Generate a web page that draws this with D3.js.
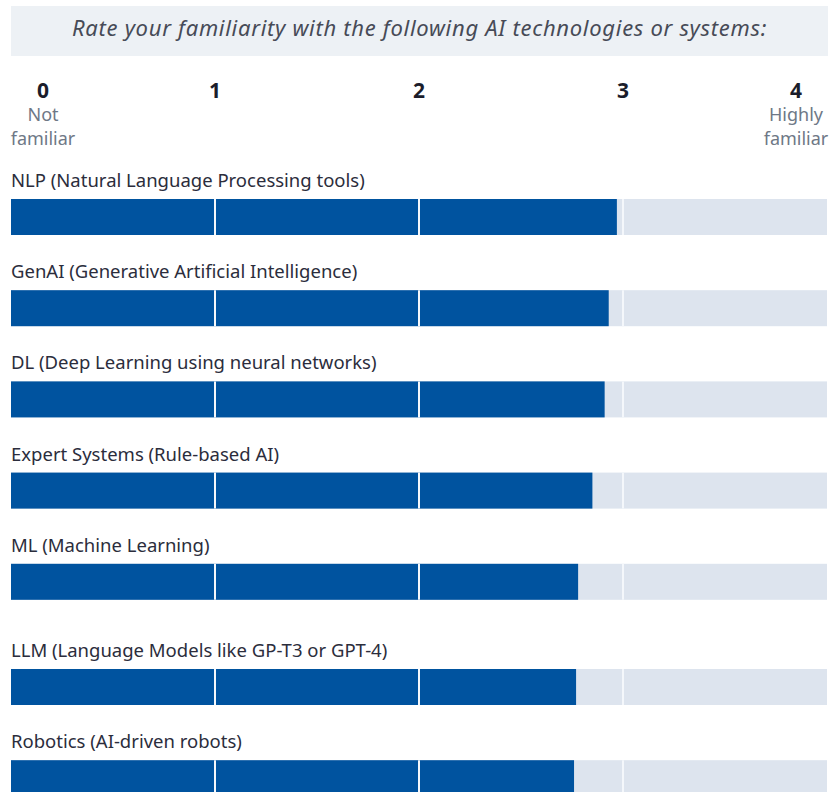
<!DOCTYPE html>
<html>
<head>
<meta charset="utf-8">
<script src="https://cdn.jsdelivr.net/npm/d3@7.9.0/dist/d3.min.js"></script>
<style>
  body { margin: 0; background: #fff; }
  svg { display: block; font-family: "Noto Sans", "Open Sans", sans-serif; }
</style>
</head>
<body>
<svg id="chart" width="833" height="792"></svg>
<script>
// survey question + scale
const title = 'Rate your familiarity with the following AI technologies or systems:';
const ticks = [0, 1, 2, 3, 4];
const tickNotes = { 0: ['Not', 'familiar'], 4: ['Highly', 'familiar'] };

// technologies and their average rating
const technologies = [
  'NLP (Natural Language Processing tools)',
  'GenAI (Generative Artificial Intelligence)',
  'DL (Deep Learning using neural networks)',
  'Expert Systems (Rule-based AI)',
  'ML (Machine Learning)',
  'LLM (Language Models like GP-T3 or GPT-4)',
  'Robotics (AI-driven robots)'
];
const ratings = [2.97, 2.93, 2.91, 2.85, 2.78, 2.77, 2.76];

const svg = d3.select('#chart');
const left = 11, right = 828;

let x = d3.scaleLinear().domain([0, 4]).range([left, right - 1]);

// title box
svg.append('rect')
  .attr('x', left).attr('y', 6)
  .attr('width', right - left).attr('height', 50)
  .attr('fill', '#edf1f5');
svg.append('text')
  .attr('x', (left + right) / 2).attr('y', 36)
  .attr('text-anchor', 'middle')
  .attr('font-style', 'italic')
  .attr('font-size', 22)
  .attr('letter-spacing', 0.7)
  .attr('fill', '#474b57')
  .text(title);

// scale header: end labels sit inward
const tickX = (t) => t === 0 ? left + 32 : t === 4 ? right - 32 : x(t);
let header = svg.append('g');
ticks.forEach(t => {
  header.append('text')
    .attr('x', tickX(t)).attr('y', 98)
    .attr('text-anchor', 'middle')
    .attr('font-weight', 'bold')
    .attr('font-size', 21)
    .attr('fill', '#1b1d2b')
    .text(t);
  (tickNotes[t] || []).forEach((line, i) => {
    header.append('text')
      .attr('x', tickX(t)).attr('y', 121 + i * 24)
      .attr('text-anchor', 'middle')
      .attr('font-size', 18)
      .attr('fill', '#6e7886')
      .text(line);
  });
});

// rows (a bit of extra space before the LLM row, as in the source)
const rowTop = (i) => 199 + i * 91.2 + (i >= 5 ? 14 : 0);
const barH = 36;

let rows = svg.selectAll('g.row')
  .data(technologies.map((name, i) => ({ name, value: ratings[i], i })))
  .enter()
  .append('g')
  .attr('class', 'row')
  .attr('transform', d => `translate(0,${rowTop(d.i)})`);

rows.append('text')
  .attr('x', left).attr('y', -12)
  .attr('font-size', 18.5)
  .attr('fill', '#2b2d3c')
  .text(d => d.name);

rows.append('rect')
  .attr('x', x(0)).attr('y', 0)
  .attr('width', x(4) - x(0)).attr('height', barH)
  .attr('fill', '#dde4ee');

rows.append('rect')
  .attr('x', x(0)).attr('y', 0)
  .attr('width', d => x(d.value) - x(0)).attr('height', barH)
  .attr('fill', '#00539f');

rows.selectAll('line.grid')
  .data([1, 2, 3])
  .enter()
  .append('line')
  .attr('class', 'grid')
  .attr('x1', d => x(d)).attr('x2', d => x(d))
  .attr('y1', 0).attr('y2', barH)
  .attr('stroke', '#f4f7fb')
  .attr('stroke-width', 2);
</script>
</body>
</html>
